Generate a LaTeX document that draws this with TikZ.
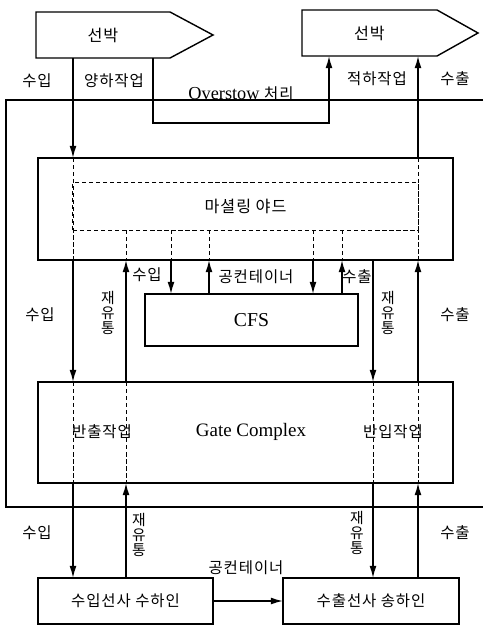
\documentclass[tikz,border=0pt]{standalone}
\usepackage{fontspec}
\setmainfont{Liberation Serif}
\newfontfamily\kr[LetterSpace=6]{Noto Sans CJK KR}
\usetikzlibrary{arrows.meta, calc}

\begin{document}
\begin{tikzpicture}[x=0.025cm, y=-0.025cm]
    \tikzstyle{shipbody} = [rectangle, inner sep=0pt, outer sep=0pt, minimum height=1.15cm, font=\kr\fontsize{11.5}{13}\selectfont]
    \tikzstyle{block} = [rectangle, draw, line width=1pt, inner sep=0pt, outer sep=0pt]
    \tikzstyle{dashbox} = [rectangle, draw, dash pattern=on 3pt off 2pt, line width=0.7pt, inner sep=0pt, outer sep=0pt]
    \tikzstyle{edge} = [line width=1pt, line join=miter]
    \tikzstyle{line} = [draw, -{Latex[length=3mm, width=1.7mm]}, line width=1pt]
    \tikzstyle{guide} = [draw, dash pattern=on 3pt off 2pt, line width=0.7pt]
    \tikzstyle{ko} = [inner sep=1pt, font=\kr\fontsize{11}{13}\selectfont]
    \tikzstyle{vert} = [inner sep=1pt, align=center, font=\kr\fontsize{10.5}{10.5}\selectfont]
    \tikzstyle{en} = [inner sep=1pt, font=\fontsize{13.5}{15}\selectfont]

    \useasboundingbox (0,0) rectangle (483,628);

    % columns of the flows
    \coordinate (cA) at (73,0);
    \coordinate (cB) at (126,0);
    \coordinate (cC) at (171,0);
    \coordinate (cD) at (209,0);
    \coordinate (cE) at (313,0);
    \coordinate (cF) at (342,0);
    \coordinate (cG) at (373,0);
    \coordinate (cH) at (418,0);
    \coordinate (cO) at (153,0);
    \coordinate (ovturn) at (329,123);

    % ships
    \node [shipbody, minimum width=3.35cm] (shipL) at (103,35) {선박};
    \node [shipbody, minimum width=3.375cm] (shipR) at (369.5,33) {선박};
    \draw [edge] (shipL.north west) -- (shipL.north east) -- ($(shipL.east)+(43,0)$) -- (shipL.south east) -- (shipL.south west) -- cycle;
    \draw [edge] (shipR.north west) -- (shipR.north east) -- ($(shipR.east)+(41,0)$) -- (shipR.south east) -- (shipR.south west) -- cycle;

    % terminal boundary
    \draw [edge] (483,100) -- (6,100) -- (6,507) -- (483,507);

    % blocks
    \node [block, minimum width=10.375cm, minimum height=2.55cm] (yard) at (245.5,209) {};
    \node [dashbox, minimum width=8.625cm, minimum height=1.175cm, font=\kr\fontsize{11.5}{13}\selectfont] (yardin) at (245.5,206.5) {마셜링\ 야드};
    \node [block, minimum width=5.325cm, minimum height=1.3cm, font=\fontsize{14}{16}\selectfont] (cfs) at (251.5,320) {CFS};
    \node [block, minimum width=10.375cm, minimum height=2.525cm] (gate) at (245.5,432.5) {};
    \node [en] (gatetxt) at (251,432) {Gate Complex};
    \node [ko] (gateout) at (102,432) {반출작업};
    \node [ko] (gatein) at (393,432) {반입작업};
    \node [block, minimum width=4.375cm, minimum height=1.15cm, font=\kr\fontsize{11}{13}\selectfont] (consignee) at (125.5,601) {수입선사\ 수하인};
    \node [block, minimum width=4.4cm, minimum height=1.15cm, font=\kr\fontsize{11}{13}\selectfont] (shipper) at (371,601) {수출선사\ 송하인};

    % labels
    \node [ko] (impA) at (37,81) {수입};
    \node [ko] (unload) at (114,81) {양하작업};
    \node [ko] (load) at (377,79) {적하작업};
    \node [ko] (expA) at (455,79) {수출};
    \node [inner sep=1pt, font=\fontsize{13}{15}\selectfont] (overstow) at (241,94) {Overstow {\kr\fontsize{11}{13}\selectfont 처리}};
    \node [ko] (impB) at (40,315) {수입};
    \node [vert] (reuseA) at (108,313) {재\\유\\통};
    \node [ko] (cfsin) at (147,275) {수입};
    \node [ko] (emptyA) at (256,277) {공컨테이너};
    \node [ko] (cfsout) at (357,277) {수출};
    \node [vert] (reuseB) at (388,313) {재\\유\\통};
    \node [ko] (expB) at (455,315) {수출};
    \node [ko] (impC) at (37,533) {수입};
    \node [vert] (reuseC) at (139,535) {재\\유\\통};
    \node [vert] (reuseD) at (357,533) {재\\유\\통};
    \node [ko] (expC) at (455,533) {수출};
    \node [ko] (emptyB) at (246,568) {공컨테이너};

    % ship <-> yard
    \path [line] (cA |- shipL.south) -- (cA |- yard.north);
    \path [line] (shipL.south -| cO) |- (ovturn) -- (ovturn |- shipR.south);
    \path [line] (cH |- yard.north) -- (cH |- shipR.south);

    % passing through the yard
    \path [guide] (cA |- yard.north) -- (cA |- yard.south);
    \path [guide] (cH |- yard.north) -- (cH |- yard.south);
    \foreach \c in {cB, cC, cD, cE, cF}
        \path [guide] (\c |- yardin.south) -- (\c |- yard.south);

    % yard <-> CFS
    \path [line] (cC |- yard.south) -- (cC |- cfs.north);
    \path [line] (cD |- cfs.north) -- (cD |- yard.south);
    \path [line] (cE |- yard.south) -- (cE |- cfs.north);
    \path [line] (cF |- cfs.north) -- (cF |- yard.south);

    % yard <-> gate
    \path [line] (cA |- yard.south) -- (cA |- gate.north);
    \path [line] (cB |- gate.north) -- (cB |- yard.south);
    \path [line] (cG |- yard.south) -- (cG |- gate.north);
    \path [line] (cH |- gate.north) -- (cH |- yard.south);

    % passing through the gate
    \foreach \c in {cA, cB, cG, cH}
        \path [guide] (\c |- gate.north) -- (\c |- gate.south);

    % gate <-> shippers
    \path [line] (cA |- gate.south) -- (cA |- consignee.north);
    \path [line] (cB |- consignee.north) -- (cB |- gate.south);
    \path [line] (cG |- gate.south) -- (cG |- shipper.north);
    \path [line] (cH |- shipper.north) -- (cH |- gate.south);
    \path [line] (consignee.east) -- (shipper.west);
\end{tikzpicture}
\end{document}
